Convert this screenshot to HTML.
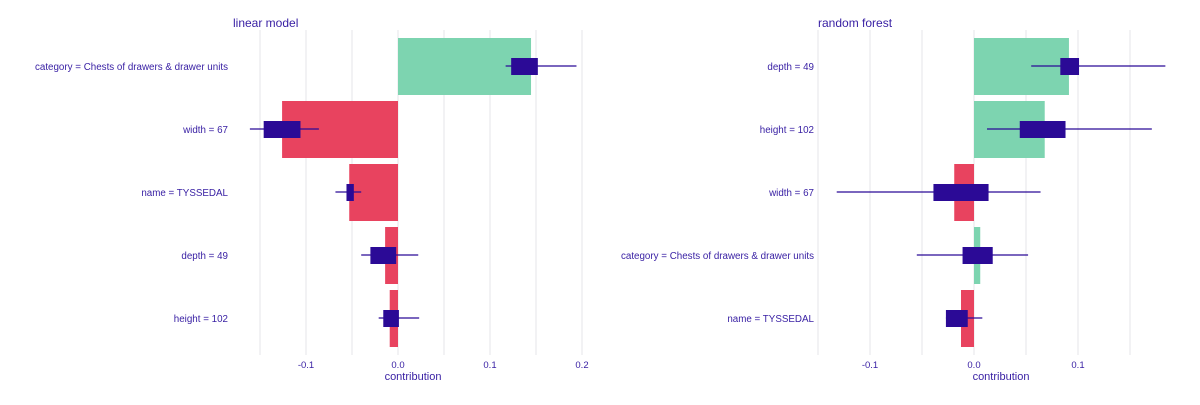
<!DOCTYPE html>
<html><head><meta charset="utf-8"><style>
body{margin:0;background:#fff;font-family:"Liberation Sans",Arial,sans-serif}
svg text{fill:#371ea3;font-family:"Liberation Sans",Arial,sans-serif}
</style></head><body>
<svg id="chart" width="1200" height="400" viewBox="0 0 1200 400" xmlns="http://www.w3.org/2000/svg"></svg>
<script>
const lmLabels = ["category = Chests of drawers & drawer units","width = 67","name = TYSSEDAL","depth = 49","height = 102"];
const lmValues = [0.1446,-0.126,-0.053,-0.014,-0.009];
const lmMin = [0.117,-0.161,-0.068,-0.040,-0.021];
const lmQ1 = [0.123,-0.146,-0.056,-0.030,-0.016];
const lmQ3 = [0.152,-0.106,-0.048,-0.002,0.001];
const lmMax = [0.194,-0.086,-0.040,0.022,0.023];
const lmTicks = [-0.1,0,0.1,0.2];
const lmTickLabels = ["-0.1","0.0","0.1","0.2"];

const rfLabels = ["depth = 49","height = 102","width = 67","category = Chests of drawers & drawer units","name = TYSSEDAL"];
const rfValues = [0.0913,0.068,-0.019,0.006,-0.0125];
const rfMin = [0.055,0.0125,-0.132,-0.055,-0.027];
const rfQ1 = [0.083,0.044,-0.039,-0.011,-0.027];
const rfQ3 = [0.101,0.088,0.014,0.018,-0.006];
const rfMax = [0.184,0.171,0.064,0.052,0.008];
const rfTicks = [-0.1,0,0.1];
const rfTickLabels = ["-0.1","0.0","0.1"];

const svg = document.getElementById('chart');
const NS = 'http://www.w3.org/2000/svg';
function mk(tag, attrs, parent){const e=document.createElementNS(NS,tag);for(const k in attrs)e.setAttribute(k,attrs[k]);(parent||svg).appendChild(e);return e;}

function panel(p){
  const g = mk('g',{});
  
  
  const x = v => p.x0 + v * p.scale;
  const rowY = i => 66 + i * 63;
  for (let v = p.gmin; v <= p.gmax + 1e-9; v += 0.05) {
    const l = mk('line',{x1:x(v),x2:x(v),y1:30,y2:355,stroke:'#e4e4e8','stroke-width':1},g);
    
    
  }
  const t = mk('text',{x:p.titleX,y:27,'font-size':12},g); t.textContent = p.title;
  
  
  p.labels.forEach((lab,i)=>{
    const y = rowY(i), v = p.values[i];
    const r = mk('rect',{x:Math.min(x(0),x(v)),y:y-28,width:Math.abs(x(v)-x(0)),height:57,fill:v>=0?'#7dd4b0':'#e8435f'},g);
    
    
    const w = mk('line',{x1:x(p.mn[i]),x2:x(p.mx[i]),y1:y,y2:y,stroke:'#2b0a96','stroke-width':1.2},g);
    
    
    const b = mk('rect',{x:x(p.q1[i]),y:y-8,width:x(p.q3[i])-x(p.q1[i]),height:17,fill:'#2b0a96'},g);
    
    
    const tl = mk('text',{x:p.labelX,y:y+4,'font-size':9.8,'text-anchor':'end'},g); tl.textContent = lab;
    
    
  });
  p.ticks.forEach((v,i)=>{
    const tt = mk('text',{x:x(v),y:368,'font-size':9.5,'text-anchor':'middle'},g); tt.textContent = p.tickLabels[i];
    
    
  });
  const at = mk('text',{x:p.axisX,y:380,'font-size':11,'text-anchor':'middle'},g); at.textContent='contribution';
  
  
}
panel({name:'linear-model-panel',title:'linear model',titleX:233,labelX:228,x0:398,scale:920,gmin:-0.15,gmax:0.2,
  labels:lmLabels,values:lmValues,mn:lmMin,q1:lmQ1,q3:lmQ3,mx:lmMax,ticks:lmTicks,tickLabels:lmTickLabels,axisX:413});
panel({name:'random-forest-panel',title:'random forest',titleX:818,labelX:814,x0:974,scale:1040,gmin:-0.15,gmax:0.15,
  labels:rfLabels,values:rfValues,mn:rfMin,q1:rfQ1,q3:rfQ3,mx:rfMax,ticks:rfTicks,tickLabels:rfTickLabels,axisX:1001});
</script>
</body></html>
